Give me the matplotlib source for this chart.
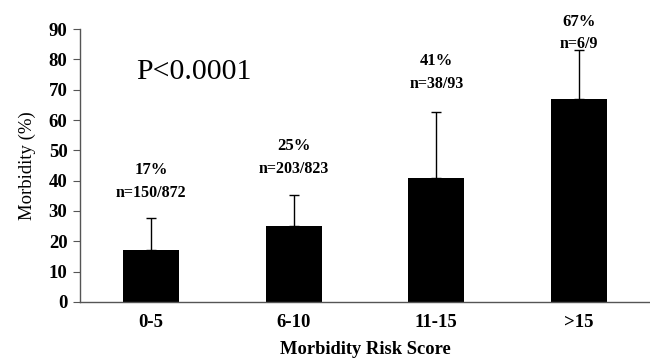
import numpy as np
import matplotlib.pyplot as plt

# Morbidity by risk score group
groups = ['0-5', '6-10', '11-15', '>15']
morbidity_pct = [17, 25, 41, 67]
error_top = [27.7, 35.3, 62.7, 83.2]
counts = ['n=150/872', 'n=203/823', 'n=38/93', 'n=6/9']
label_y = [36, 44, 72, 85]

plt.rcParams['font.family'] = ['Liberation Serif', 'DejaVu Serif']

fig = plt.figure(figsize=(6.5, 3.59), dpi=100)
ax = fig.add_axes([0.123, 0.159, 0.877, 0.760])

x = np.arange(len(groups))
upper = np.array(error_top) - np.array(morbidity_pct)
yerr = [np.zeros(len(groups)), upper]

ax.bar(x, morbidity_pct, width=0.39, color='black', zorder=2)
ax.errorbar(x, morbidity_pct, yerr=yerr, fmt='none', ecolor='black',
            elinewidth=1.0, capsize=3.5, capthick=1.0, zorder=1)

for xi, pct, n, ly in zip(x, morbidity_pct, counts, label_y):
    ax.text(xi, ly + 7.5, f'{pct}%', ha='center', va='center',
            fontsize=12, fontweight='bold')
    ax.text(xi, ly, n, ha='center', va='center', fontsize=11.5, fontweight='bold')

ax.text(0.3, 76, 'P<0.0001', ha='center', va='center', fontsize=21.5)

ax.set_xlim(-0.5, 3.5)
ax.set_ylim(0, 90)
ax.set_yticks(np.arange(0, 91, 10))
ax.set_xticks(x)
ax.set_xticklabels(groups)

for s in ['top', 'right']:
    ax.spines[s].set_visible(False)
for s in ['left', 'bottom']:
    ax.spines[s].set_color('#555555')
    ax.spines[s].set_linewidth(1.0)

ax.tick_params(axis='y', direction='out', length=5, color='#555555', pad=4,
               labelsize=13.5)
ax.tick_params(axis='x', length=0, pad=9, labelsize=13.5)
for lbl in ax.get_xticklabels() + ax.get_yticklabels():
    lbl.set_fontweight('bold')

ax.set_xlabel('Morbidity Risk Score', fontsize=13.3, fontweight='bold', labelpad=7)
ax.set_ylabel('Morbidity (%)', fontsize=13.5, labelpad=9)

fig.savefig('out.png', dpi=100)
